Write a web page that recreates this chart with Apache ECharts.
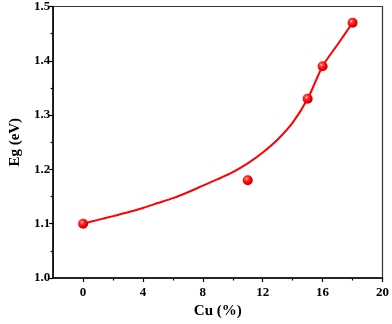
<!DOCTYPE html>
<html>
<head>
<meta charset="utf-8">
<script src="https://cdn.jsdelivr.net/npm/echarts@6/dist/echarts.min.js"></script>
<style>html,body{margin:0;padding:0;background:#fff;}#c{width:392px;height:324px;}</style>
</head>
<body>
<div id="c"></div>
<script>
// measured points
var cuPct = [0, 11, 15, 16, 18];
var egVals = [1.10, 1.18, 1.33, 1.39, 1.47];
// fitted curve
var curveX = [0, 1, 2, 3, 4, 5, 6, 7, 8, 9, 10, 11, 12, 13, 14, 15, 16, 17, 18];
var curveY = [1.100, 1.107, 1.114, 1.121, 1.129, 1.138, 1.147, 1.158, 1.170, 1.182, 1.195, 1.211, 1.231, 1.255, 1.286, 1.330, 1.390, 1.430, 1.470];
// tick labels
var xMajor = [0, 4, 8, 12, 16, 20];
var xMinor = [2, 6, 10, 14, 18];

var font = '"Liberation Serif", "Times New Roman", serif';
var chart = echarts.init(document.getElementById('c'), null, {renderer: 'canvas'});
var ball = new echarts.graphic.RadialGradient(0.38, 0.35, 0.7, [
  {offset: 0, color: '#ffe0e0'},
  {offset: 0.22, color: '#ff4040'},
  {offset: 0.6, color: '#ff0000'},
  {offset: 1, color: '#b00000'}
]);
chart.setOption({
  animation: false,
  grid: {left: 47, right: 8, top: 6, bottom: 46, show: true, borderColor: '#333', borderWidth: 1.2, backgroundColor: 'transparent'},
  xAxis: [{
    type: 'value', min: -2, max: 20,
    name: 'Cu (%)', nameLocation: 'middle', nameGap: 17,
    nameTextStyle: {fontFamily: font, fontWeight: 'bold', fontSize: 15, color: '#000'},
    axisLine: {show: true, onZero: false, lineStyle: {color: '#000', width: 1.5}},
    axisTick: {show: true, customValues: xMajor, length: 4, lineStyle: {color: '#000', width: 1.2}},
    axisLabel: {customValues: xMajor, margin: 8, fontFamily: font, fontWeight: 'bold', fontSize: 13, color: '#000'},
    splitLine: {show: false}
  }, {
    type: 'value', min: -2, max: 20, position: 'bottom',
    axisLine: {show: false, onZero: false},
    axisTick: {show: true, customValues: xMinor, length: 2.5, lineStyle: {color: '#000', width: 1.2}},
    axisLabel: {show: false},
    splitLine: {show: false}
  }],
  yAxis: {
    type: 'value', min: 1.0, max: 1.5, interval: 0.1,
    name: 'Eg (eV)', nameLocation: 'middle', nameGap: 27, nameRotate: 90,
    nameTextStyle: {fontFamily: font, fontWeight: 'bold', fontSize: 15, color: '#000'},
    axisLine: {show: true, onZero: false, lineStyle: {color: '#000', width: 1.5}},
    axisTick: {show: true, length: 4, lineStyle: {color: '#000', width: 1.2}},
    minorTick: {show: true, splitNumber: 2, length: 2.5, lineStyle: {color: '#000', width: 1.2}},
    axisLabel: {margin: 3, fontFamily: font, fontWeight: 'bold', fontSize: 13, color: '#000',
      formatter: function (v) { return v.toFixed(1); }},
    splitLine: {show: false}
  },
  series: [{
    type: 'line', smooth: 0.3, showSymbol: false, symbol: 'none',
    data: curveX.map(function (x, i) { return [x, curveY[i]]; }),
    lineStyle: {color: '#ff0000', width: 2}, z: 2
  }, {
    type: 'scatter', symbol: 'circle', symbolSize: 10,
    data: cuPct.map(function (x, i) { return [x, egVals[i]]; }),
    itemStyle: {color: ball, opacity: 1}, z: 3
  }]
});
</script>
</body>
</html>
